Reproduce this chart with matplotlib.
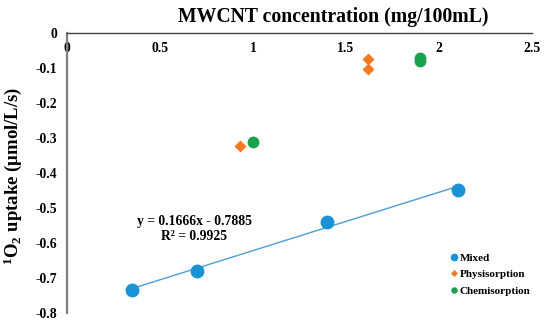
import numpy as np
import matplotlib
matplotlib.use("Agg")
import matplotlib.pyplot as plt
from matplotlib.ticker import FuncFormatter

plt.rcParams['font.family'] = ['Liberation Serif', 'DejaVu Serif']
plt.rcParams['font.weight'] = 'bold'
plt.rcParams['axes.unicode_minus'] = False
plt.rcParams['mathtext.fontset'] = 'custom'
plt.rcParams['mathtext.rm'] = 'Liberation Serif:bold'
plt.rcParams['mathtext.bf'] = 'Liberation Serif:bold'
plt.rcParams['mathtext.it'] = 'Liberation Serif:bold'

# Data
mixed_x = [0.35, 0.70, 1.40, 2.10]
mixed_y = [-0.733, -0.679, -0.540, -0.448]
physi_x = [0.93, 1.62, 1.62]
physi_y = [-0.324, -0.074, -0.103]
chemi_x = [1.00, 1.90, 1.90]
chemi_y = [-0.312, -0.071, -0.082]
slope, intercept, r2 = 0.1666, -0.7885, 0.9925
x_ticks = [0, 0.5, 1, 1.5, 2, 2.5]
y_ticks = [0, -0.1, -0.2, -0.3, -0.4, -0.5, -0.6, -0.7, -0.8]

c_blue = '#1a92d6'
c_orange = '#f47a20'
c_green = '#1ba24f'
c_trend = '#4a9fd8'

fig = plt.figure(figsize=(5.5, 3.29), dpi=100)
ax = fig.add_axes([67/550, 1-313/329, 465/550, (313-32.7)/329])

tx = np.array([min(mixed_x), max(mixed_x)])
ax.plot(tx, slope*tx + intercept, color=c_trend, lw=1.0, zorder=2)
ax.plot(mixed_x, mixed_y, 'o', color=c_blue, ms=10, mec='none', label='Mixed', zorder=3)
ax.plot(physi_x, physi_y, 'D', color=c_orange, ms=6.5, mec='none', label='Physisorption', zorder=3)
ax.plot(chemi_x, chemi_y, 'o', color=c_green, ms=8.5, mec='none', label='Chemisorption', zorder=3)

ax.set_xlim(0, 2.5)
ax.set_ylim(-0.8, 0)
ax.set_xticks(x_ticks)
ax.set_yticks(y_ticks)
fmt = FuncFormatter(lambda v, p: ('%g' % round(v, 2)))
ax.xaxis.set_major_formatter(fmt)
ax.yaxis.set_major_formatter(fmt)

ax.xaxis.tick_top()
ax.xaxis.set_label_position('top')
ax.tick_params(axis='x', length=0, pad=-16, labelsize=9.8)
ax.tick_params(axis='y', length=0, pad=7, labelsize=9.8)
for lab in ax.get_xticklabels() + ax.get_yticklabels():
    lab.set_fontweight('bold')

for s in ['bottom', 'right']:
    ax.spines[s].set_visible(False)
ax.spines['top'].set_color('#404040')
ax.spines['top'].set_linewidth(1.0)
ax.spines['left'].set_color('#7f7f7f')
ax.spines['left'].set_linewidth(1.6)

ax.set_xlabel('MWCNT concentration (mg/100mL)', fontsize=14.2, fontweight='bold')
ax.xaxis.set_label_coords(0.572, 1.02)
ax.xaxis.label.set_va('bottom')
ax.set_ylabel(r'$^{1}$O$_{2}$ uptake (μmol/L/s)', fontsize=13.5, fontweight='bold')
ax.yaxis.set_label_coords(-0.092, 0.49)

ax.text(0.685, -0.56, 'y = 0.1666x - 0.7885\nR² = 0.9925', ha='center', va='center',
        fontsize=9.8, fontweight='bold', linespacing=1.15)

leg = ax.legend(loc='upper left', bbox_to_anchor=(451/550, 1-253/329), bbox_transform=fig.transFigure,
                frameon=False, fontsize=8, markerscale=0.55, handlelength=0.6, handletextpad=0.2,
                labelspacing=0.6, borderpad=0, borderaxespad=0)
for t in leg.get_texts():
    t.set_fontweight('bold')

fig.savefig('out.png', dpi=100)
